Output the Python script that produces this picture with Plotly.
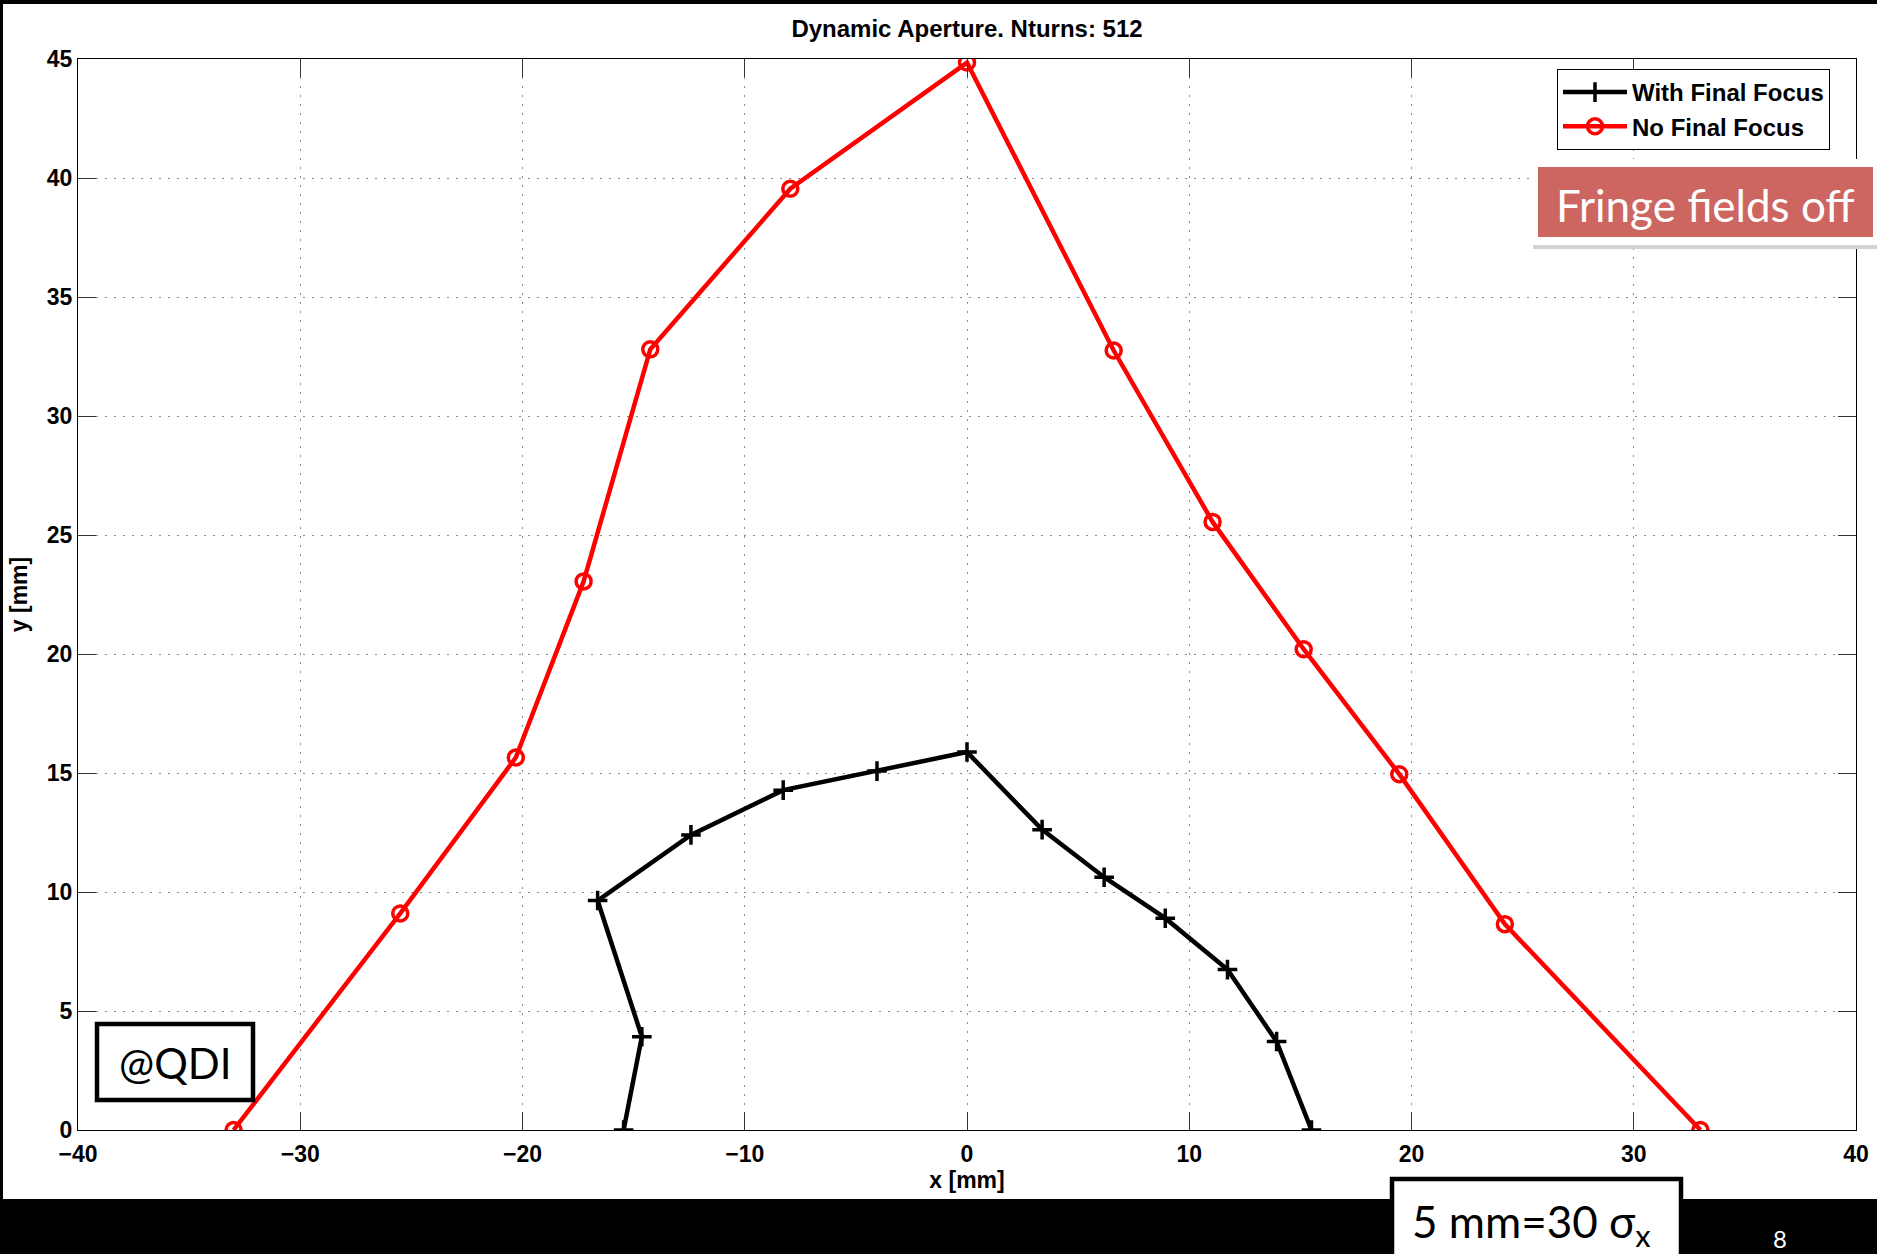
import plotly.graph_objects as go

# ---- data ----
with_ff_x = [-15.45, -14.63, -16.62, -12.42, -8.27, -4.05, 0.0, 3.38, 6.17, 8.92, 11.72, 13.93, 15.5]
with_ff_y = [0.0, 3.92, 9.64, 12.4, 14.28, 15.08, 15.88, 12.62, 10.62, 8.9, 6.74, 3.72, 0.0]
no_ff_x = [-33.0, -25.5, -20.3, -17.25, -14.25, -7.95, 0.0, 6.6, 11.05, 15.15, 19.45, 24.2, 33.0]
no_ff_y = [0.0, 9.1, 15.65, 23.05, 32.8, 39.55, 44.85, 32.75, 25.55, 20.2, 14.95, 8.65, 0.0]
series_names = ["With Final Focus", "No Final Focus"]
title_text = "Dynamic Aperture. Nturns: 512"
x_label = "x [mm]"
y_label = "y [mm]"
x_ticks = [-40, -30, -20, -10, 0, 10, 20, 30, 40]
y_ticks = [0, 5, 10, 15, 20, 25, 30, 35, 40, 45]

# ---- layout geometry (pixels) ----
W, H = 1877, 1254
L, R, T, B = 78, 1856, 59, 1130


def px(X):
    return (X - L) / (R - L)


def py(Y):
    return (B - Y) / (B - T)


AX_FONT = dict(family="Liberation Sans, Arial, sans-serif", size=23, color="black", weight="bold")
SLIDE_FONT = "Lato, Open Sans, sans-serif"

fig = go.Figure()
fig.add_trace(go.Scatter(
    x=with_ff_x, y=with_ff_y, mode="lines+markers", name=series_names[0],
    line=dict(color="black", width=4.5),
    marker=dict(symbol="cross-thin", size=14, color="black", line=dict(color="black", width=3.5)),
))
fig.add_trace(go.Scatter(
    x=no_ff_x, y=no_ff_y, mode="lines+markers", name=series_names[1],
    line=dict(color="#ff0000", width=4.5),
    marker=dict(symbol="circle-open", size=15, color="#ff0000", line=dict(color="#ff0000", width=3.5)),
))

axis_common = dict(
    showline=True, linecolor="black", linewidth=1, mirror="ticks",
    ticks="inside", ticklen=18, tickwidth=1, tickcolor="#333333",
    showgrid=True, gridcolor="#8c8c8c", gridwidth=1, griddash="2px,7px",
    zeroline=False, tickfont=AX_FONT,
)

fig.update_xaxes(range=[-40, 40], tickvals=x_ticks, ticklabelstandoff=3,
                 title=dict(text=x_label, font=AX_FONT, standoff=5), **axis_common)
fig.update_yaxes(range=[0, 45], tickvals=y_ticks,
                 title=dict(text=y_label, font=AX_FONT, standoff=12), **axis_common)

shapes = []
# black slide frame (top, left) and bottom band
shapes.append(dict(type="rect", xref="paper", yref="paper", x0=px(0), x1=px(W), y0=py(0), y1=py(4),
                   fillcolor="black", line=dict(width=0), layer="above"))
shapes.append(dict(type="rect", xref="paper", yref="paper", x0=px(0), x1=px(3), y0=py(0), y1=py(1199),
                   fillcolor="black", line=dict(width=0), layer="above"))
shapes.append(dict(type="rect", xref="paper", yref="paper", x0=px(0), x1=px(W), y0=py(1199), y1=py(H),
                   fillcolor="black", line=dict(width=0), layer="above"))
# Fringe fields off panel
shapes.append(dict(type="rect", xref="paper", yref="paper", x0=px(1533), x1=px(W), y0=py(163), y1=py(249),
                   fillcolor="#d4d4d4", line=dict(width=0), layer="above"))
shapes.append(dict(type="rect", xref="paper", yref="paper", x0=px(1530), x1=px(W), y0=py(159), y1=py(245),
                   fillcolor="white", line=dict(width=0), layer="above"))
shapes.append(dict(type="rect", xref="paper", yref="paper", x0=px(1538), x1=px(1873), y0=py(167), y1=py(237),
                   fillcolor="#cd6661", line=dict(width=0), layer="above"))
# @QDI box
shapes.append(dict(type="rect", xref="paper", yref="paper", x0=px(97), x1=px(253), y0=py(1024), y1=py(1100),
                   fillcolor="white", line=dict(color="black", width=4.5), layer="above"))
# 5 mm box
shapes.append(dict(type="rect", xref="paper", yref="paper", x0=px(1392), x1=px(1681), y0=py(1179), y1=py(1262),
                   fillcolor="white", line=dict(color="black", width=4.5), layer="above"))

annotations = [
    dict(text="Fringe fields off", xref="paper", yref="paper", x=px(1705), y=py(205),
         xanchor="center", yanchor="middle", showarrow=False,
         font=dict(family=SLIDE_FONT, size=44, color="white")),
    dict(text="@QDI", xref="paper", yref="paper", x=px(175), y=py(1063),
         xanchor="center", yanchor="middle", showarrow=False,
         font=dict(family=SLIDE_FONT, size=42, color="black")),
    dict(text="5 mm=30 σ<sub>x</sub>", xref="paper", yref="paper", x=px(1531), y=py(1224),
         xanchor="center", yanchor="middle", showarrow=False,
         font=dict(family=SLIDE_FONT, size=44, color="black")),
    dict(text="8", xref="paper", yref="paper", x=px(1780), y=py(1238),
         xanchor="center", yanchor="middle", showarrow=False,
         font=dict(family=SLIDE_FONT, size=24, color="white")),
]

fig.update_layout(
    width=W, height=H,
    margin=dict(l=L, r=W - R, t=T, b=H - B, autoexpand=False),
    paper_bgcolor="white", plot_bgcolor="white",
    title=dict(text=title_text, x=(L + R) / 2 / W, xanchor="center",
               y=1 - 29 / H, yanchor="middle",
               font=dict(family="Liberation Sans, Arial, sans-serif", size=24, color="black", weight="bold")),
    showlegend=True,
    legend=dict(x=px(1557), y=py(69), xanchor="left", yanchor="top",
                bgcolor="white", bordercolor="black", borderwidth=1,
                font=dict(family="Liberation Sans, Arial, sans-serif", size=24, color="black", weight="bold"),
                tracegroupgap=0, itemwidth=64),
    shapes=shapes,
    annotations=annotations,
)

fig.write_html("out.html")
